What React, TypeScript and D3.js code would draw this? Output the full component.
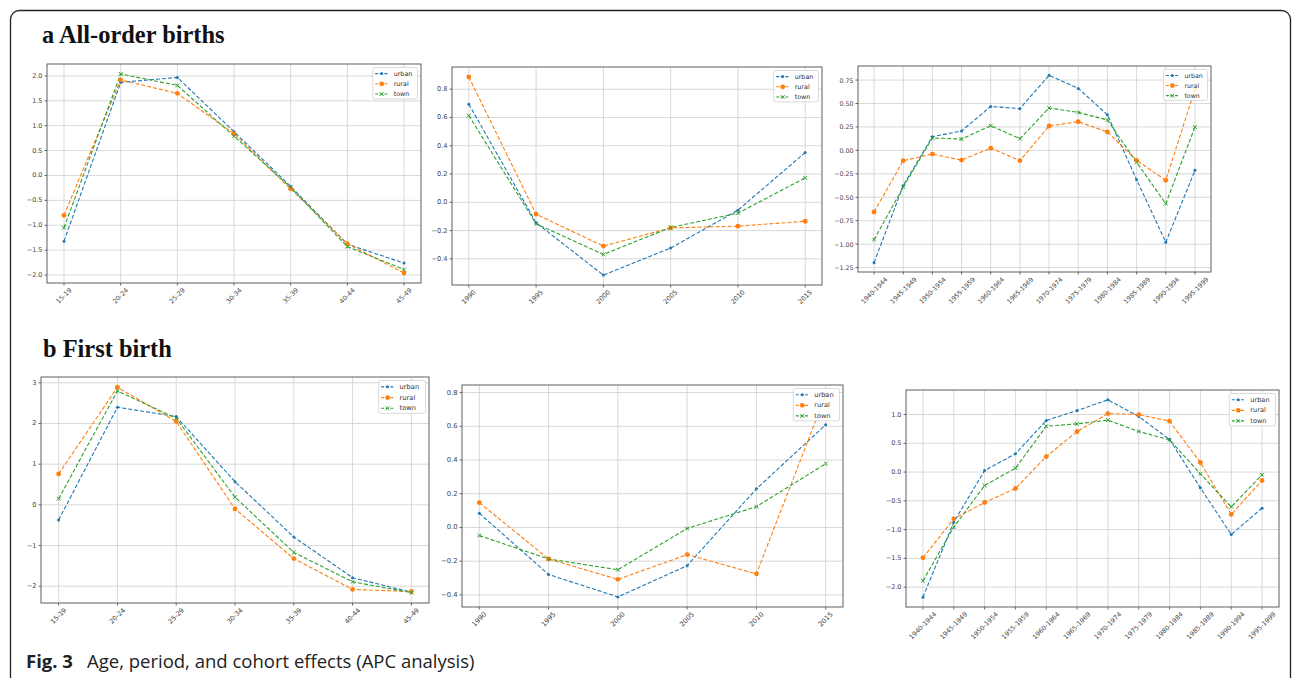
import React from "react";
import * as d3 from "d3";

// ---------- data ----------
const AGE_GROUPS = ["15-19", "20-24", "25-29", "30-34", "35-39", "40-44", "45-49"];
const PERIODS = ["1990", "1995", "2000", "2005", "2010", "2015"];
const COHORTS = [
  "1940-1944", "1945-1949", "1950-1954", "1955-1959", "1960-1964", "1965-1969",
  "1970-1974", "1975-1979", "1980-1984", "1985-1989", "1990-1994", "1995-1999",
];
const SERIES_NAMES = ["urban", "rural", "town"];
const SERIES_COLORS = ["#1f77b4", "#ff7f0e", "#2ca02c"];
const SERIES_MARKERS = ["point", "circle", "x"];

const allAgeUrban = [-1.32, 1.87, 1.97, 0.88, -0.22, -1.38, -1.76];
const allAgeRural = [-0.8, 1.92, 1.65, 0.84, -0.27, -1.37, -1.96];
const allAgeTown = [-1.05, 2.04, 1.81, 0.79, -0.24, -1.43, -1.89];

const allPeriodUrban = [0.694, -0.145, -0.515, -0.324, -0.056, 0.352];
const allPeriodRural = [0.887, -0.084, -0.31, -0.181, -0.169, -0.134];
const allPeriodTown = [0.614, -0.152, -0.369, -0.178, -0.077, 0.173];

const allCohortUrban = [-1.197, -0.376, 0.146, 0.207, 0.469, 0.445, 0.8, 0.661, 0.38, -0.312, -0.98, -0.213];
const allCohortRural = [-0.657, -0.11, -0.039, -0.103, 0.025, -0.11, 0.26, 0.306, 0.196, -0.106, -0.319, 0.65];
const allCohortTown = [-0.952, -0.39, 0.132, 0.121, 0.263, 0.125, 0.452, 0.405, 0.324, -0.127, -0.568, 0.249];

const firstAgeUrban = [-0.37, 2.4, 2.17, 0.57, -0.79, -1.79, -2.15];
const firstAgeRural = [0.76, 2.89, 2.05, -0.1, -1.32, -2.08, -2.13];
const firstAgeTown = [0.15, 2.8, 2.13, 0.19, -1.17, -1.89, -2.16];

const firstPeriodUrban = [0.084, -0.279, -0.412, -0.227, 0.229, 0.609];
const firstPeriodRural = [0.147, -0.187, -0.308, -0.161, -0.275, 0.785];
const firstPeriodTown = [-0.048, -0.187, -0.251, -0.006, 0.123, 0.378];

const firstCohortUrban = [-2.174, -0.871, 0.027, 0.317, 0.896, 1.07, 1.255, 0.965, 0.566, -0.274, -1.085, -0.627];
const firstCohortRural = [-1.49, -0.813, -0.529, -0.286, 0.27, 0.705, 1.017, 1.0, 0.884, 0.166, -0.737, -0.147];
const firstCohortTown = [-1.89, -0.957, -0.234, 0.068, 0.797, 0.838, 0.902, 0.705, 0.56, -0.031, -0.604, -0.048];

const allAgeTicks = [-2.0, -1.5, -1.0, -0.5, 0.0, 0.5, 1.0, 1.5, 2.0];
const allPeriodTicks = [-0.4, -0.2, 0.0, 0.2, 0.4, 0.6, 0.8];
const allCohortTicks = [-1.25, -1.0, -0.75, -0.5, -0.25, 0.0, 0.25, 0.5, 0.75];
const firstAgeTicks = [-2, -1, 0, 1, 2, 3];
const firstPeriodTicks = [-0.4, -0.2, 0.0, 0.2, 0.4, 0.6, 0.8];
const firstCohortTicks = [-2.0, -1.5, -1.0, -0.5, 0.0, 0.5, 1.0];

const TITLE_A = "a All-order births";
const TITLE_B = "b First birth";
const CAPTION_BOLD = "Fig. 3";
const CAPTION_TEXT = "Age, period, and cohort effects (APC analysis)";

// ---------- helpers ----------
const TICK_FONT = "'DejaVu Sans', sans-serif";

function textWidthEst(s: string, fs: number) {
  let w = 0;
  for (const c of s) {
    if (c >= "0" && c <= "9") w += 0.636;
    else if (c === "-") w += 0.361;
    else if (c === ".") w += 0.318;
    else w += 0.6;
  }
  return w * fs;
}

function Marker({ kind, x, y, color }: { kind: string; x: number; y: number; color: string }) {
  if (kind === "point") return <circle cx={x} cy={y} r={1.5} fill={color} />;
  if (kind === "circle") return <circle cx={x} cy={y} r={2.4} fill={color} />;
  const s = 1.9;
  return (
    <g stroke={color} strokeWidth={1}>
      <line x1={x - s} y1={y - s} x2={x + s} y2={y + s} />
      <line x1={x - s} y1={y + s} x2={x + s} y2={y - s} />
    </g>
  );
}

type PanelProps = {
  x0: number; y0: number; x1: number; y1: number;
  cats: string[];
  series: number[][];
  yTicks: number[];
  yFmt: string;
  fs: number;
  lfs: number;
};

function Panel({ x0, y0, x1, y1, cats, series, yTicks, yFmt, fs, lfs }: PanelProps) {
  const n = cats.length - 1;
  const x = d3.scaleLinear().domain([-0.05 * n, n * 1.05]).range([x0, x1]);
  const all = series.flat();
  const lo = d3.min(all)!;
  const hi = d3.max(all)!;
  const pad = (hi - lo) * 0.05;
  const y = d3.scaleLinear().domain([lo - pad, hi + pad]).range([y1, y0]);
  const fmt = d3.format(yFmt);
  const line = d3
    .line<number>()
    .x((_, i) => x(i))
    .y((v) => y(v));

  const lw = lfs * 7;
  const lh = lfs * 4.9;
  const lx = x1 - 3.5 - lw;
  const ly = y0 + 3.5;
  const step = lfs * 1.6;

  return (
    <g>
      <rect x={x0} y={y0} width={x1 - x0} height={y1 - y0} fill="#fff" />
      {/* grid */}
      <g stroke="#cfcfcf" strokeWidth={0.8}>
        {cats.map((c, i) => (
          <line key={"gx" + c} x1={x(i)} x2={x(i)} y1={y0} y2={y1} />
        ))}
        {yTicks.map((t) => (
          <line key={"gy" + t} x1={x0} x2={x1} y1={y(t)} y2={y(t)} />
        ))}
      </g>
      {/* lines */}
      {series.map((s, k) => (
        <path
          key={"l" + k}
          d={line(s)!}
          fill="none"
          stroke={SERIES_COLORS[k]}
          strokeWidth={1.1}
          strokeDasharray="4,2"
        />
      ))}
      {series.map((s, k) => (
        <g key={"m" + k}>
          {s.map((v, i) => (
            <Marker key={i} kind={SERIES_MARKERS[k]} x={x(i)} y={y(v)} color={SERIES_COLORS[k]} />
          ))}
        </g>
      ))}
      {/* frame */}
      <rect x={x0} y={y0} width={x1 - x0} height={y1 - y0} fill="none" stroke="#5e5e5e" strokeWidth={1} />
      {/* y ticks */}
      {yTicks.map((t) => (
        <g key={"yt" + t}>
          <line x1={x0 - 2.5} x2={x0} y1={y(t)} y2={y(t)} stroke="#444" strokeWidth={0.8} />
          <text
            x={x0 - 4.5}
            y={y(t)}
            textAnchor="end"
            dominantBaseline="central"
            fontFamily={TICK_FONT}
            fontSize={fs}
            fill="#444"
          >
            {fmt(t)}
          </text>
        </g>
      ))}
      {/* x ticks */}
      {cats.map((c, i) => {
        const w = textWidthEst(c, fs);
        const h = fs * 0.75;
        const d = (w + h) / Math.SQRT2;
        return (
          <g key={"xt" + c}>
            <line x1={x(i)} x2={x(i)} y1={y1} y2={y1 + 2.5} stroke="#444" strokeWidth={0.8} />
            <text
              transform={`translate(${x(i)},${y1 + 4.5 + d / 2}) rotate(-45)`}
              textAnchor="middle"
              dominantBaseline="central"
              fontFamily={TICK_FONT}
              fontSize={fs}
              fill="#444"
            >
              {c}
            </text>
          </g>
        );
      })}
      {/* legend */}
      <rect x={lx} y={ly} width={lw} height={lh} rx={2} fill="#fff" fillOpacity={0.85} stroke="#d0d0d0" strokeWidth={0.8} />
      {SERIES_NAMES.map((name, k) => {
        const yy = ly + lfs * 0.95 + k * step;
        return (
          <g key={"lg" + name}>
            <line
              x1={lx + 2.5}
              x2={lx + 15.5}
              y1={yy}
              y2={yy}
              stroke={SERIES_COLORS[k]}
              strokeWidth={1.1}
              strokeDasharray="3,1.6"
            />
            <Marker kind={SERIES_MARKERS[k]} x={lx + 9} y={yy} color={SERIES_COLORS[k]} />
            <text
              x={lx + 21}
              y={yy}
              dominantBaseline="central"
              fontFamily={TICK_FONT}
              fontSize={lfs}
              fill="#333"
            >
              {name}
            </text>
          </g>
        );
      })}
    </g>
  );
}

export default function App() {
  return (
    <div style={{ position: "absolute", left: 0, top: 0, width: 1292, height: 678, overflow: "hidden", background: "#fff" }}>
      <svg width={1292} height={678} viewBox="0 0 1292 678" style={{ display: "block" }}>
        <rect x={0} y={0} width={1292} height={678} fill="#fff" />
        <rect x={10.5} y={10.5} width={1280} height={700} rx={9} fill="none" stroke="#222" strokeWidth={1.3} />

        <text x={42} y={43} fontFamily="'Liberation Serif', 'Times New Roman', serif" fontWeight="bold" fontSize={24.4} fill="#111">
          {TITLE_A}
        </text>
        <text x={43} y={357} fontFamily="'Liberation Serif', 'Times New Roman', serif" fontWeight="bold" fontSize={24.4} fill="#111">
          {TITLE_B}
        </text>

        <Panel x0={47} y0={64} x1={421} y1={283} cats={AGE_GROUPS}
          series={[allAgeUrban, allAgeRural, allAgeTown]} yTicks={allAgeTicks} yFmt=".1f" fs={6.5} lfs={6.4} />
        <Panel x0={452} y0={67} x1={822} y1={285} cats={PERIODS}
          series={[allPeriodUrban, allPeriodRural, allPeriodTown]} yTicks={allPeriodTicks} yFmt=".1f" fs={6.6} lfs={6.4} />
        <Panel x0={858} y0={66} x1={1211} y1={272} cats={COHORTS}
          series={[allCohortUrban, allCohortRural, allCohortTown]} yTicks={allCohortTicks} yFmt=".2f" fs={6.3} lfs={6.3} />

        <Panel x0={41} y0={377} x1={429} y1={603} cats={AGE_GROUPS}
          series={[firstAgeUrban, firstAgeRural, firstAgeTown]} yTicks={firstAgeTicks} yFmt="d" fs={6.6} lfs={6.7} />
        <Panel x0={462} y0={385} x1={843} y1={607} cats={PERIODS}
          series={[firstPeriodUrban, firstPeriodRural, firstPeriodTown]} yTicks={firstPeriodTicks} yFmt=".1f" fs={6.8} lfs={6.6} />
        <Panel x0={906} y0={390} x1={1279} y1={607} cats={COHORTS}
          series={[firstCohortUrban, firstCohortRural, firstCohortTown]} yTicks={firstCohortTicks} yFmt=".1f" fs={6.5} lfs={6.6} />

        <text x={26} y={668} fontFamily="'Open Sans', sans-serif" fontSize={18.5} fill="#222">
          <tspan fontWeight="bold">{CAPTION_BOLD}</tspan>
        </text>
        <text x={87} y={668} fontFamily="'Open Sans', sans-serif" fontSize={18.5} fill="#222">
          {CAPTION_TEXT}
        </text>
      </svg>
    </div>
  );
}
